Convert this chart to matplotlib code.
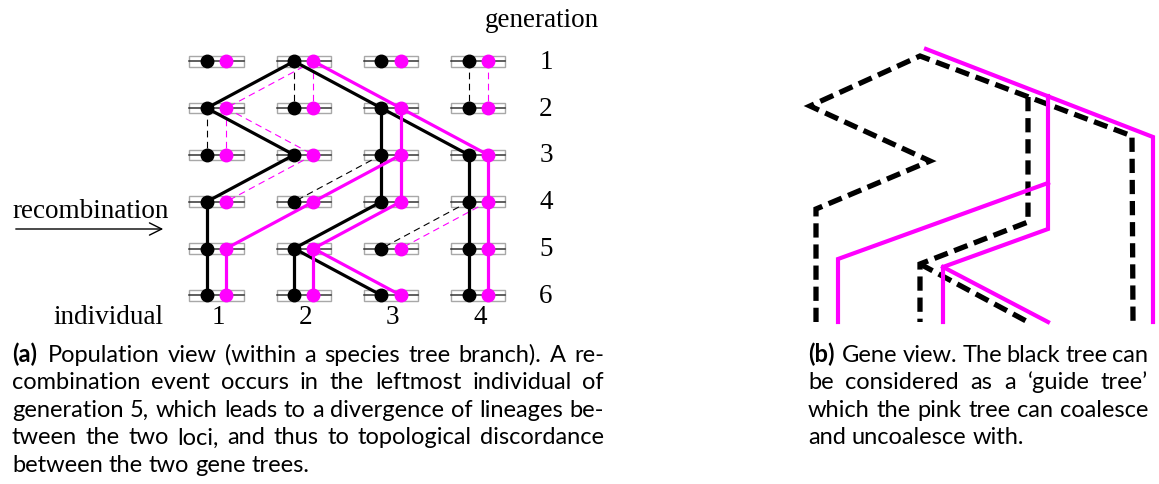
import matplotlib
matplotlib.use("Agg")
import matplotlib.pyplot as plt
from matplotlib.patches import Rectangle

# ---- panel (a): population view -------------------------------------------
individuals = [1, 2, 3, 4]
generations = [1, 2, 3, 4, 5, 6]

# edges (parent generation, parent individual, child individual); child gen = parent gen + 1
black_solid = [(1, 2, 1), (1, 2, 3), (2, 1, 2), (2, 3, 3), (2, 3, 4), (3, 2, 1), (3, 3, 3),
               (3, 4, 4), (4, 1, 1), (4, 3, 2), (4, 4, 4), (5, 1, 1), (5, 2, 2), (5, 2, 3),
               (5, 4, 4)]
pink_solid = [(1, 2, 3), (2, 3, 3), (2, 3, 4), (3, 3, 2), (3, 3, 3), (3, 4, 4), (4, 2, 1),
              (4, 3, 2), (4, 4, 4), (5, 1, 1), (5, 2, 2), (5, 2, 3), (5, 4, 4)]
black_dashed = [(1, 2, 2), (1, 4, 4), (2, 1, 1), (3, 3, 2), (4, 4, 3)]
pink_dashed = [(1, 2, 1), (1, 2, 2), (1, 4, 4), (2, 1, 1), (2, 1, 2), (3, 2, 1), (4, 4, 3)]

# ---- panel (b): gene view (paths, in picture units) -------------------------
black_paths = [
    ([816, 816, 930, 810, 920, 1132, 1133], [323, 210, 162, 107, 57, 137, 322]),
    ([1028, 1028, 920, 920], [98, 223, 265, 323]),
    ([920, 1028], [265, 323]),
]
pink_paths = [
    ([926, 1153, 1153], [50, 138, 323]),
    ([1048, 1048, 943, 943], [97, 230, 268, 323]),
    ([943, 1048], [268, 323]),
    ([1048, 838, 838], [184, 260, 323]),
]

caption_a = [
    [("(a)", "bold"), ("Population", "normal"), ("view", "normal"), ("(within", "normal"),
     ("a", "normal"), ("species", "normal"), ("tree", "normal"), ("branch).", "normal"),
     ("A", "normal"), ("re-", "normal")],
    "combination event occurs in the leftmost individual of",
    "generation 5, which leads to a divergence of lineages be-",
    "tween the two loci, and thus to topological discordance",
    "between the two gene trees.",
]
caption_b = [
    [("(b)", "bold"), ("Gene", "normal"), ("view.", "normal"), ("The", "normal"),
     ("black", "normal"), ("tree", "normal"), ("can", "normal")],
    "be considered as a \u2018guide tree\u2019",
    "which the pink tree can coalesce",
    "and uncoalesce with.",
]

PINK = "#ff00ff"
W, H = 1159, 485
fig = plt.figure(figsize=(W / 100, H / 100), dpi=100)

# axes for panel (a): x = individual, y = generation
x0px, dxpx = 216.5, 87.3
y0px, dypx = 62.3, 46.8
ax = fig.add_axes([0, 0, 1, 1])
ax.set_xlim(1 - x0px / dxpx, 1 + (W - x0px) / dxpx)
ax.set_ylim(1 + (H - y0px) / dypx, 1 - y0px / dypx)
ax.axis("off")

off = 0.111
for g in generations:
    for i in individuals:
        ax.add_patch(Rectangle((i - 0.31, g - 0.115), 0.62, 0.23, facecolor="white",
                               edgecolor="#a8a8a8", lw=1.0, zorder=1))
        ax.plot([i - 0.31, i + 0.31], [g, g], color="#333333", lw=1.1, zorder=1.5)

for edges, col, dx in [(black_dashed, "black", -off), (pink_dashed, PINK, off)]:
    for g, p, c in edges:
        ax.plot([p + dx, c + dx], [g, g + 1], color=col, lw=0.8, dashes=(6, 4), zorder=2)
for edges, col, dx in [(black_solid, "black", -off), (pink_solid, PINK, off)]:
    for g, p, c in edges:
        ax.plot([p + dx, c + dx], [g, g + 1], color=col, lw=2.3, zorder=3,
                solid_capstyle="round")

for g in generations:
    ax.plot([i - off for i in individuals], [g] * 4, "o", color="black", ms=9, zorder=4)
    ax.plot([i + off for i in individuals], [g] * 4, "o", color=PINK, ms=9, zorder=4)

serif = "Liberation Serif"
for g in generations:
    ax.text(4.775, g, str(g), family=serif, fontsize=19.5, ha="center", va="center")
for i in individuals:
    ax.text(i + 0.02, 6.46, str(i), family=serif, fontsize=19.5, ha="center", va="center")
ax.text(4.73, 0.1, "generation", family=serif, fontsize=19.5, ha="center", va="center")
ax.text(-0.24, 6.46, "individual", family=serif, fontsize=19.5, ha="center", va="center")

# pixel axes for panel (b) and captions
bx = fig.add_axes([0, 0, 1, 1])
bx.set_xlim(0, W)
bx.set_ylim(H, 0)
bx.axis("off")
bx.patch.set_alpha(0)

bx.text(91, 212, "recombination", family=serif, fontsize=19.5, ha="center", va="center")
bx.annotate("", xy=(166, 230), xytext=(13, 230),
            arrowprops=dict(arrowstyle="->", lw=1.0, color="black",
                            mutation_scale=22))

for xs, ys in black_paths:
    bx.plot(xs, ys, color="black", lw=3.8, dashes=(2.7, 1.3), solid_joinstyle="miter",
            dash_joinstyle="miter", dash_capstyle="butt", zorder=2)
for xs, ys in pink_paths:
    bx.plot(xs, ys, color=PINK, lw=3.0, solid_joinstyle="miter", zorder=3)

renderer = fig.canvas.get_renderer()
CAP = dict(family="Lato", fontsize=17, va="baseline")


def text_width(s, weight="normal"):
    t = bx.text(0, 0, s, fontweight=weight, **CAP)
    w = t.get_window_extent(renderer).width
    t.remove()
    # bold label needs a little extra room after it
    return w + (3 if weight == "bold" else 0)


space = text_width("x x") - text_width("xx")


def put_caption(lines, left, right, top, step):
    for k, line in enumerate(lines):
        words = line if isinstance(line, list) else [(w, "normal") for w in line.split()]
        y = top + k * step
        widths = [text_width(w, wt) for w, wt in words]
        last = k == len(lines) - 1
        gap = space if last else (right - left - sum(widths)) / (len(words) - 1)
        x = left
        for (w, wt), wd in zip(words, widths):
            bx.text(x, y, w, fontweight=wt, ha="left", **CAP)
            x += wd + gap


put_caption(caption_a, 12, 604, 362, 27.5)
put_caption(caption_b, 808, 1148, 362, 27.5)

fig.savefig("out.png", dpi=100)
